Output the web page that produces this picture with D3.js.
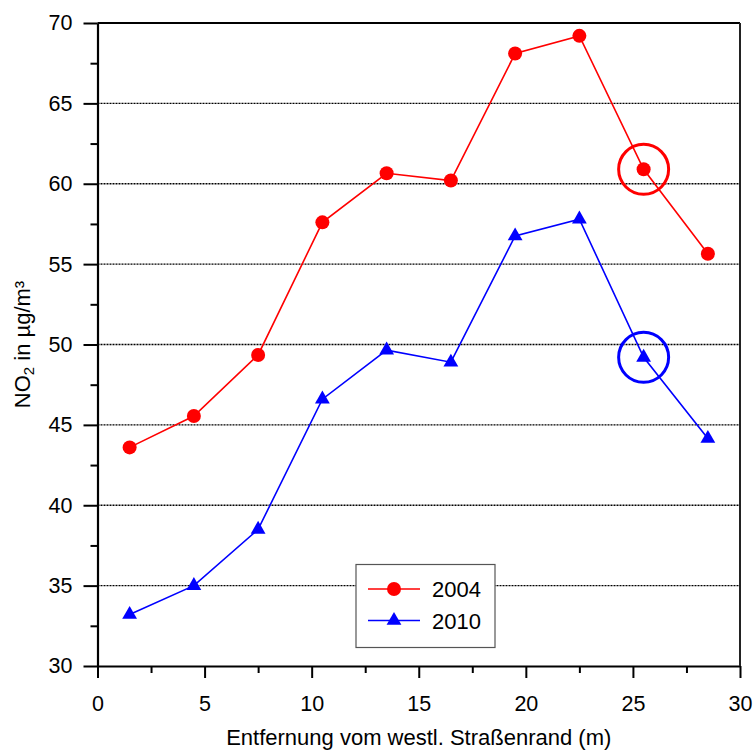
<!DOCTYPE html>
<html>
<head>
<meta charset="utf-8">
<script src="https://cdn.jsdelivr.net/npm/d3@7"></script>
<style>
  body { margin: 0; background: #fff; }
  text { font-family: "Liberation Sans", Arial, sans-serif; fill: #000; }
</style>
</head>
<body>
<div id="chart-area"></div>
<script>
// data
var distances = [1.5, 4.5, 7.5, 10.5, 13.5, 16.5, 19.5, 22.5, 25.5, 28.5];
var no2_2004 = [43.6, 45.55, 49.35, 57.6, 60.65, 60.2, 68.1, 69.2, 60.9, 55.65];
var no2_2010 = [33.2, 35.0, 38.5, 46.6, 49.65, 48.9, 56.75, 57.8, 49.2, 44.15];
var seriesNames = ["2004", "2010"];
var seriesColors = ["#ff0000", "#0000ff"];
var highlightIndex = 8;
var xTicks = [0, 5, 10, 15, 20, 25, 30];
var xMinor = [2.5, 7.5, 12.5, 17.5, 22.5, 27.5];
var yTicks = [30, 35, 40, 45, 50, 55, 60, 65, 70];
var yMinor = [32.5, 37.5, 42.5, 47.5, 52.5, 57.5, 62.5, 67.5];
var gridValues = [35, 40, 45, 50, 55, 60, 65];

var margin = { left: 97.5, right: 13, top: 23, bottom: 85 };
var width = 753 - margin.left - margin.right;
var height = 751 - margin.top - margin.bottom;

var svg = d3.select("#chart-area").append("svg")
    .attr("width", 753)
    .attr("height", 751);
var g = svg.append("g")
    .attr("transform", "translate(" + margin.left + ", " + margin.top + ")");

var x = d3.scaleLinear().domain([0, 30]).range([0, width]);
var y = d3.scaleLinear().domain([30, 70]).range([height, 0]);

// dotted grid
g.selectAll(".grid").data(gridValues).enter().append("line")
    .attr("class", "grid")
    .attr("x1", 0).attr("x2", width)
    .attr("y1", (d) => y(d)).attr("y2", (d) => y(d))
    .attr("stroke", "#000")
    .attr("stroke-width", 1.3)
    .attr("stroke-dasharray", "2,1");

// minor ticks
g.append("g")
    .call(d3.axisLeft(y).tickValues(yMinor).tickSize(7).tickFormat("").tickSizeOuter(0))
    .call((s) => s.select(".domain").remove())
    .selectAll("line").attr("stroke-width", 2);
g.append("g")
    .attr("transform", "translate(0, " + height + ")")
    .call(d3.axisBottom(x).tickValues(xMinor).tickSize(7).tickFormat("").tickSizeOuter(0))
    .call((s) => s.select(".domain").remove())
    .selectAll("line").attr("stroke-width", 2);

// major axes
var yaxg = g.append("g")
    .attr("class", "y-axis")
    .call(d3.axisLeft(y).tickValues(yTicks).tickSize(14).tickPadding(11).tickSizeOuter(0));
var xaxg = g.append("g")
    .attr("class", "x-axis")
    .attr("transform", "translate(0, " + height + ")")
    .call(d3.axisBottom(x).tickValues(xTicks).tickSize(12).tickPadding(18).tickSizeOuter(0));
[yaxg, xaxg].forEach((a) => {
    a.selectAll("line").attr("stroke-width", 2);
    a.select(".domain").attr("stroke-width", 2.2);
    a.selectAll("text").attr("font-size", "21.5px").attr("font-family", "Liberation Sans, Arial, sans-serif");
});

// top and right frame
g.append("line")
    .attr("x1", 0).attr("x2", width).attr("y1", 0).attr("y2", 0)
    .attr("stroke", "#000").attr("stroke-width", 2);
g.append("line")
    .attr("x1", width).attr("x2", width).attr("y1", 0).attr("y2", height)
    .attr("stroke", "#222").attr("stroke-width", 2);

// series
var series = [no2_2004, no2_2010];
var line = d3.line().x((d, i) => x(distances[i])).y((d) => y(d));
var triangle = d3.symbol().type(d3.symbolTriangle).size(95);

series.forEach((vals, si) => {
    g.append("path")
        .datum(vals)
        .attr("d", line)
        .attr("fill", "none")
        .attr("stroke", seriesColors[si])
        .attr("stroke-width", 1.6);
    var pts = g.selectAll(".pt" + si).data(vals).enter();
    if (si === 0) {
        pts.append("circle")
            .attr("cx", (d, i) => x(distances[i]))
            .attr("cy", (d) => y(d))
            .attr("r", 7)
            .attr("fill", seriesColors[si]);
    } else {
        pts.append("path")
            .attr("d", triangle)
            .attr("transform", (d, i) => "translate(" + x(distances[i]) + "," + y(d) + ")")
            .attr("fill", seriesColors[si]);
    }
    // highlight ring
    g.append("circle")
        .attr("cx", x(distances[highlightIndex]))
        .attr("cy", y(vals[highlightIndex]))
        .attr("r", 25)
        .attr("fill", "none")
        .attr("stroke", seriesColors[si])
        .attr("stroke-width", 3);
});

// legend
var legend = svg.append("g").attr("transform", "translate(356, 564.5)");
legend.append("rect")
    .attr("width", 139).attr("height", 83)
    .attr("fill", "#fff")
    .attr("stroke", "#555").attr("stroke-width", 1.2);
seriesNames.forEach((name, si) => {
    var ly = 24.5 + si * 31.5;
    legend.append("line")
        .attr("x1", 12).attr("x2", 64).attr("y1", ly).attr("y2", ly)
        .attr("stroke", seriesColors[si]).attr("stroke-width", 1.6);
    if (si === 0) {
        legend.append("circle").attr("cx", 38).attr("cy", ly).attr("r", 7).attr("fill", seriesColors[si]);
    } else {
        legend.append("path").attr("d", triangle)
            .attr("transform", "translate(38," + ly + ")")
            .attr("fill", seriesColors[si]);
    }
    legend.append("text")
        .attr("x", 76).attr("y", ly + 8)
        .attr("font-size", "22px")
        .text(name);
});

// axis titles
svg.append("text")
    .attr("x", margin.left + width / 2)
    .attr("y", 745)
    .attr("font-size", "22px")
    .attr("text-anchor", "middle")
    .text("Entfernung vom westl. Straßenrand (m)");

var ylab = svg.append("text")
    .attr("transform", "translate(29.5, " + (margin.top + height / 2) + ") rotate(-90)")
    .attr("font-size", "22px")
    .attr("text-anchor", "middle");
ylab.append("tspan").text("NO");
ylab.append("tspan").attr("font-size", "15px").attr("dy", 4).text("2");
ylab.append("tspan").attr("dy", -4).text(" in µg/m³");
</script>
</body>
</html>
